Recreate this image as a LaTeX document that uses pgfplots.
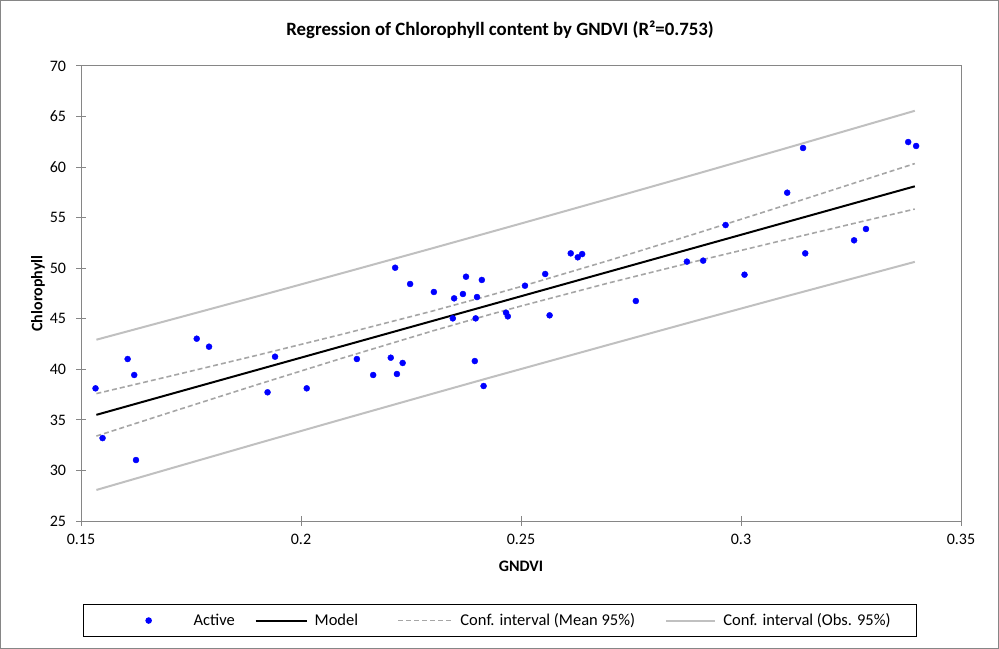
\documentclass[border=0pt]{standalone}
\usepackage{pgfplots}
\pgfplotsset{compat=1.18}
\usepackage{pgfplotstable}
\usepackage{fontspec}
\setmainfont{Carlito}
\definecolor{axgray}{RGB}{134,134,134}
\definecolor{meangray}{RGB}{166,166,166}
\definecolor{obsgray}{RGB}{192,192,192}
\definecolor{ptblue}{RGB}{0,0,255}

\pgfplotstableread{
x y
0.1533 38.12
0.1549 33.20
0.1606 41.02
0.1621 39.44
0.1625 31.03
0.1763 43.03
0.1791 42.24
0.1941 41.25
0.1924 37.73
0.2013 38.12
0.2127 41.02
0.2164 39.44
0.2204 41.15
0.2218 39.54
0.2231 40.63
0.2214 50.05
0.2248 48.44
0.2302 47.65
0.2348 47.02
0.2345 45.04
0.2368 47.45
0.2375 49.16
0.2400 47.15
0.2411 48.84
0.2397 45.04
0.2395 40.82
0.2415 38.35
0.2466 45.60
0.2470 45.24
0.2509 48.27
0.2555 49.43
0.2565 45.34
0.2613 51.47
0.2629 51.08
0.2639 51.40
0.2761 46.76
0.2877 50.65
0.2914 50.75
0.2965 54.27
0.3008 49.36
0.3105 57.47
0.3141 61.89
0.3146 51.47
0.3257 52.76
0.3284 53.88
0.3380 62.48
0.3398 62.09
}\pointdata

\pgfplotstableread{
x model mlo mhi olo ohi
0.1535 35.50 33.40 37.60 28.07 42.93
0.17   37.51 35.71 39.30 30.15 44.86
0.19   39.94 38.48 41.39 32.66 47.21
0.21   42.37 41.19 43.54 35.14 49.59
0.23   44.80 43.81 45.78 37.60 51.99
0.2426 46.33 45.38 47.28 39.14 53.52
0.25   47.23 46.26 48.19 40.03 54.42
0.27   49.66 48.55 50.77 42.44 56.87
0.29   52.09 50.71 53.46 44.83 59.34
0.31   54.52 52.81 56.22 47.19 61.84
0.33   56.95 54.88 59.02 49.52 64.37
0.3395 58.10 55.85 60.35 50.63 65.57
}\linedata

\begin{document}
\begin{tikzpicture}
\useasboundingbox (0,0) rectangle (999bp,649bp);
\draw[axgray,line width=1bp] (0.5bp,0.5bp) rectangle (998.5bp,648.5bp);
\begin{axis}[
  at={(81bp,128bp)}, anchor=south west,
  width=880bp, height=455bp, scale only axis,
  xmin=0.15, xmax=0.35, ymin=25, ymax=70,
  xtick={0.15,0.2,0.25,0.3,0.35},
  xticklabels={0.15,0.2,0.25,0.3,0.35},
  ytick={25,30,...,70},
  yticklabels={25,30,35,40,45,50,55,60,65,70},
  tick align=center,
  major tick length=9bp,
  xtick pos=bottom, ytick pos=left,
  axis line style={axgray,line width=1bp},
  tick style={axgray,line width=1bp},
  every tick label/.append style={font=\fontsize{16bp}{19bp}\selectfont},
  yticklabel style={xshift=-7bp},
  xticklabel style={yshift=-5bp},
  every axis title shift=0pt,
  title={Regression of Chlorophyll content by GNDVI (R²=0.753)},
  title style={at={(0.4762,1.0791)},anchor=center,font=\bfseries\fontsize{18.8bp}{21bp}\selectfont},
  xlabel={GNDVI},
  xlabel style={at={(0.5,-0.0989)},anchor=center,font=\bfseries\fontsize{16bp}{19bp}\selectfont},
  ylabel={Chlorophyll},
  ylabel style={at={(-0.0489,0.5)},anchor=center,font=\bfseries\fontsize{16bp}{19bp}\selectfont},
  legend columns=4,
  legend style={at={(0.00227,-0.2549)},anchor=south west,draw=black,line width=1.3bp,
    inner xsep=0pt,inner ysep=9bp,
    font=\fontsize{16.5bp}{19bp}\selectfont,
    nodes={inner sep=0pt,anchor=west},
    /tikz/every even column/.style={column sep=0pt}},
]
\addplot[only marks, mark=*, mark size=3bp, mark options={draw=ptblue,fill=ptblue},
  legend image code/.code={\path[draw=none,fill=none] (-40bp,0) -- (70bp,0); \fill[ptblue] (25bp,0) circle (2.6bp);}]
  table[x=x,y=y] {\pointdata};
\addlegendentry{\makebox[61bp][l]{Active}}
\addplot[black, line width=2bp, no marks,
  legend image code/.code={\path[draw=none] (0,0) -- (59bp,0); \draw[black,line width=2bp] (0,0) -- (51bp,0);}]
  table[x=x,y=model] {\linedata};
\addlegendentry{\makebox[83bp][l]{Model}}
\addplot[meangray, line width=1.6bp, dash pattern=on 5bp off 3bp, no marks, forget plot]
  table[x=x,y=mlo] {\linedata};
\addplot[meangray, line width=1.6bp, dash pattern=on 5bp off 3bp, no marks,
  legend image code/.code={\path[draw=none] (0,0) -- (62bp,0); \draw[meangray,line width=1.6bp,dash pattern=on 5bp off 3bp] (0,0) -- (54bp,0);}]
  table[x=x,y=mhi] {\linedata};
\addlegendentry{\makebox[205bp][l]{Conf. interval (Mean 95\%)}}
\addplot[obsgray, line width=2bp, no marks, forget plot]
  table[x=x,y=olo] {\linedata};
\addplot[obsgray, line width=2bp, no marks,
  legend image code/.code={\path[draw=none] (0,0) -- (57bp,0); \draw[obsgray,line width=2bp] (0,0) -- (49bp,0);}]
  table[x=x,y=ohi] {\linedata};
\addlegendentry{\makebox[193bp][l]{Conf. interval (Obs. 95\%)}}
\end{axis}
\end{tikzpicture}
\end{document}
